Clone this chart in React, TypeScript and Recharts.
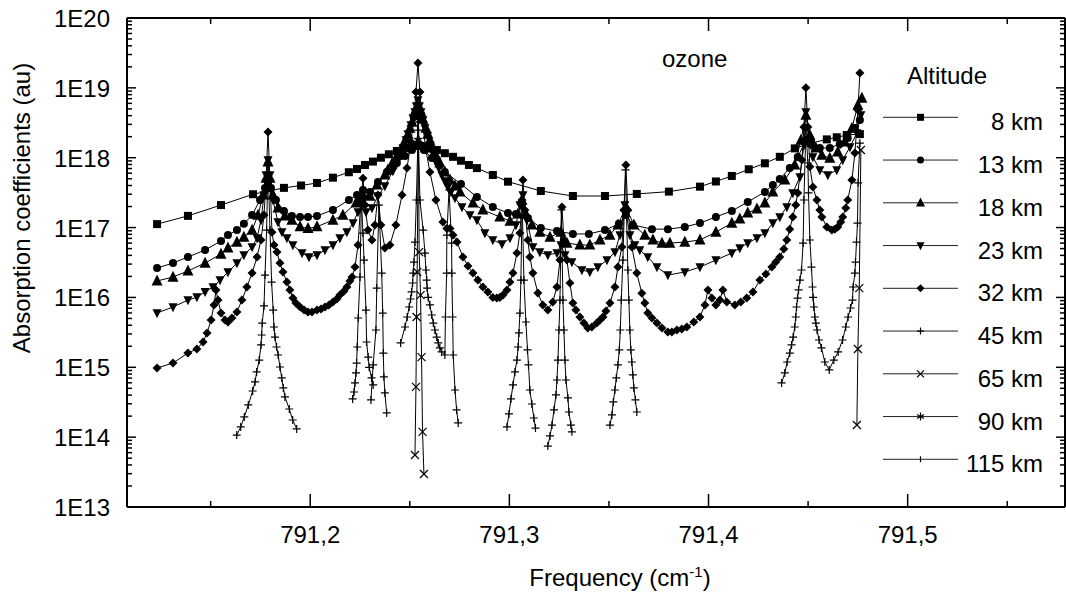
import React from 'react';
import { LineChart, Line, XAxis, YAxis, Legend, Customized } from 'recharts';

const FONT = "'Liberation Sans', Arial, sans-serif";
const FS = 24;

// ---- data: [frequency (cm-1), absorption coefficient (au)] ----
const km8: [number, number][] = [
  [791.1231, 1.12e17], [791.1386, 1.47e17], [791.1552, 2.1e17], [791.1713, 3.0e17], [791.1868, 3.7e17],
  [791.1954, 4.0e17], [791.2034, 4.35e17], [791.2114, 5.18e17], [791.2194, 6.2e17], [791.2235, 6.9e17],
  [791.2275, 7.87e17], [791.2315, 8.8e17], [791.2355, 1.0e18], [791.2395, 1.12e18], [791.2435, 1.25e18],
  [791.2476, 1.38e18], [791.2516, 1.47e18], [791.2556, 1.47e18], [791.2596, 1.38e18], [791.2636, 1.29e18],
  [791.2676, 1.16e18], [791.2717, 1.03e18], [791.2757, 9.06e17], [791.2797, 7.87e17], [791.2837, 7.1e17],
  [791.2917, 5.66e17], [791.2993, 4.54e17], [791.3158, 3.34e17], [791.3319, 2.83e17], [791.348, 2.83e17],
  [791.364, 3.03e17], [791.3801, 3.27e17], [791.3957, 3.85e17], [791.4037, 4.57e17], [791.4117, 5.48e17],
  [791.4202, 6.83e17], [791.4283, 8.32e17], [791.4358, 1.03e18], [791.4433, 1.36e18], [791.4514, 1.62e18],
  [791.4594, 1.83e18], [791.4644, 1.96e18], [791.4694, 2.11e18], [791.476, 2.18e18],
];

const km13: [number, number][] = [
  [791.1231, 2.63e16], [791.1311, 3.11e16], [791.1386, 3.79e16], [791.1472, 4.77e16], [791.1552, 6.42e16],
  [791.1587, 7.8e16], [791.1632, 9.22e16], [791.1667, 1.13e17], [791.1708, 1.51e17], [791.1748, 2.48e17],
  [791.1773, 3.69e17], [791.1788, 4.5e17], [791.1803, 3.69e17], [791.1828, 2.48e17], [791.1868, 1.73e17],
  [791.1908, 1.47e17], [791.1949, 1.42e17], [791.1989, 1.42e17], [791.2034, 1.47e17], [791.2114, 1.79e17],
  [791.2194, 2.48e17], [791.2235, 2.93e17], [791.2265, 3.45e17], [791.23, 3.23e17], [791.234, 4.5e17],
  [791.2385, 6.25e17], [791.2435, 8.4e17], [791.2476, 1.06e18], [791.2511, 1.29e18], [791.2541, 1.47e18],
  [791.2571, 1.29e18], [791.2611, 9.9e17], [791.2676, 6.25e17], [791.2757, 4.2e17], [791.2837, 2.74e17],
  [791.2917, 1.97e17], [791.2993, 1.62e17], [791.3033, 1.57e17], [791.3063, 2.1e17], [791.3093, 1.37e17],
  [791.3158, 9.9e16], [791.3239, 8.9e16], [791.3319, 8.1e16], [791.3399, 8.1e16], [791.348, 9.2e16],
  [791.355, 1.13e17], [791.3585, 1.51e17], [791.362, 1.09e17], [791.3716, 9.5e16], [791.3796, 9.5e16],
  [791.3881, 1.02e17], [791.3957, 1.16e17], [791.4037, 1.42e17], [791.4117, 1.73e17], [791.4197, 2.33e17],
  [791.4283, 3.23e17], [791.4323, 4.07e17], [791.4358, 4.96e17], [791.4408, 7.1e17], [791.4448, 1.02e18],
  [791.4489, 1.79e18], [791.4519, 1.52e18], [791.4559, 1.38e18], [791.4609, 1.38e18], [791.4659, 1.57e18],
  [791.4699, 1.91e18], [791.4735, 2.66e18], [791.476, 3.46e18],
];

const km18: [number, number][] = [
  [791.1231, 1.72e16], [791.1311, 1.96e16], [791.1386, 2.39e16], [791.1472, 3.11e16], [791.1552, 4.18e16],
  [791.1587, 5.1e16], [791.1632, 6.2e16], [791.1667, 7.3e16], [791.1708, 9.2e16], [791.1738, 1.51e17],
  [791.1763, 2.93e17], [791.1778, 5.1e17], [791.1788, 8.7e17], [791.1798, 5.1e17], [791.1813, 2.93e17],
  [791.1838, 1.91e17], [791.1873, 1.47e17], [791.1908, 1.28e17], [791.1949, 1.03e17], [791.1989, 9.7e16],
  [791.2034, 1.03e17], [791.2114, 1.28e17], [791.2164, 1.51e17], [791.223, 2.25e17], [791.2265, 2.93e17],
  [791.23, 2.83e17], [791.2335, 4.07e17], [791.2375, 5.66e17], [791.239, 6.68e17], [791.241, 8.13e17],
  [791.2425, 9.3e17], [791.244, 1.09e18], [791.2451, 1.25e18], [791.2466, 1.52e18], [791.2481, 1.85e18],
  [791.2491, 2.18e18], [791.2501, 2.66e18], [791.2511, 3.24e18], [791.2526, 4.52e18], [791.2531, 4.98e18],
  [791.2541, 5.87e18], [791.2551, 4.98e18], [791.2556, 4.52e18], [791.2566, 3.58e18], [791.2581, 2.66e18],
  [791.2591, 2.18e18], [791.2601, 1.79e18], [791.2616, 1.38e18], [791.2631, 1.09e18], [791.2651, 8.4e17],
  [791.2676, 6.25e17], [791.2702, 4.8e17], [791.2727, 3.94e17], [791.2752, 3.23e17], [791.2817, 2.25e17],
  [791.2867, 1.79e17], [791.2952, 1.42e17], [791.3003, 1.24e17], [791.3043, 1.57e17], [791.3063, 2.48e17],
  [791.3083, 1.57e17], [791.3113, 1.09e17], [791.3153, 8.6e16], [791.3204, 7.3e16], [791.3259, 8.6e16],
  [791.3289, 6.0e16], [791.3354, 5.63e16], [791.3404, 5.63e16], [791.3455, 6.64e16], [791.3505, 7.8e16],
  [791.3545, 1.09e17], [791.3585, 1.97e17], [791.3625, 1.09e17], [791.368, 7.8e16], [791.3721, 6.64e16],
  [791.3766, 6.0e16], [791.3806, 6.0e16], [791.3881, 6.2e16], [791.3957, 6.64e16], [791.4037, 8.6e16],
  [791.4117, 1.16e17], [791.4157, 1.33e17], [791.4197, 1.62e17], [791.4243, 1.85e17], [791.4283, 2.25e17],
  [791.4323, 3.23e17], [791.4383, 4.8e17], [791.4433, 7.87e17], [791.4464, 1.79e18], [791.4489, 4.08e18],
  [791.4509, 2.11e18], [791.4539, 1.38e18], [791.4569, 1.09e18], [791.4609, 9.9e17], [791.4649, 1.21e18],
  [791.4684, 1.68e18], [791.472, 2.66e18], [791.475, 5.67e18], [791.477, 7.15e18],
];

const km23: [number, number][] = [
  [791.1231, 5.98e15], [791.1311, 7.3e15], [791.1386, 9.15e15], [791.1431, 1.01e16], [791.1472, 1.2e16],
  [791.1512, 1.41e16], [791.1547, 1.77e16], [791.1587, 2.31e16], [791.1632, 3.11e16], [791.1667, 4.05e16],
  [791.1708, 5.27e16], [791.1733, 7.08e16], [791.1753, 1.28e17], [791.1768, 2.93e17], [791.1778, 5.66e17],
  [791.1788, 9.3e17], [791.1798, 5.66e17], [791.1813, 2.48e17], [791.1838, 1.2e17], [791.1858, 8.6e16],
  [791.1883, 7.08e16], [791.1913, 5.63e16], [791.1959, 4.32e16], [791.1994, 3.79e16], [791.2034, 4.05e16],
  [791.2074, 4.77e16], [791.2114, 5.63e16], [791.2149, 7.08e16], [791.2184, 8.6e16], [791.2215, 1.16e17],
  [791.224, 1.67e17], [791.226, 2.18e17], [791.228, 1.67e17], [791.231, 1.91e17], [791.234, 2.83e17],
  [791.2375, 3.94e17], [791.2415, 6.45e17], [791.243, 7.87e17], [791.2451, 1.06e18], [791.2466, 1.38e18],
  [791.2481, 1.79e18], [791.2491, 2.18e18], [791.2506, 2.94e18], [791.2516, 3.7e18], [791.2526, 4.52e18],
  [791.2533, 5.5e18], [791.2541, 6.7e18], [791.2548, 5.5e18], [791.2556, 4.52e18], [791.2566, 3.46e18],
  [791.2576, 2.66e18], [791.2589, 2.04e18], [791.2601, 1.52e18], [791.2616, 1.17e18], [791.2631, 8.7e17],
  [791.2646, 7.1e17], [791.2661, 5.66e17], [791.2676, 4.65e17], [791.2691, 3.81e17], [791.2707, 3.23e17],
  [791.2727, 2.65e17], [791.2762, 1.97e17], [791.2802, 1.51e17], [791.2837, 1.28e17], [791.2877, 8.35e16],
  [791.2917, 6.64e16], [791.2963, 5.8e16], [791.3003, 7.08e16], [791.3033, 1.09e17], [791.3053, 2.1e17],
  [791.3068, 2.93e17], [791.3088, 1.28e17], [791.3118, 5.27e16], [791.3153, 4.46e16], [791.3193, 4.05e16],
  [791.3239, 4.32e16], [791.3259, 5.63e16], [791.3279, 4.05e16], [791.3314, 3.21e16], [791.3364, 2.47e16],
  [791.3404, 2.31e16], [791.3444, 2.72e16], [791.349, 3.43e16], [791.353, 4.46e16], [791.3555, 7.8e16],
  [791.358, 2.1e17], [791.3605, 7.8e16], [791.363, 5.63e16], [791.3655, 4.77e16], [791.3695, 3.79e16],
  [791.3741, 2.72e16], [791.3796, 2.09e16], [791.3881, 2.31e16], [791.3957, 2.72e16], [791.4037, 3.43e16],
  [791.4117, 4.32e16], [791.4157, 5.1e16], [791.4197, 6.0e16], [791.4243, 7.08e16], [791.4283, 8.35e16],
  [791.4323, 1.16e17], [791.4358, 1.42e17], [791.4393, 1.97e17], [791.4423, 3.13e17], [791.4459, 5.3e17],
  [791.4479, 1.52e18], [791.4489, 4.52e18], [791.4504, 1.79e18], [791.4524, 1.02e18], [791.4559, 6.68e17],
  [791.4599, 5.66e17], [791.4644, 6.68e17], [791.4674, 9.3e17], [791.471, 1.42e18], [791.4745, 2.26e18],
  [791.4765, 4.08e18],
];

const km32: [number, number][] = [
  [791.1231, 9.8e14], [791.1311, 1.15e15], [791.1386, 1.6e15], [791.1431, 1.83e15], [791.1462, 2.3e15],
  [791.1482, 3.1e15], [791.1502, 4.75e15], [791.1517, 7.8e15], [791.1527, 1.28e16], [791.1537, 9.15e15],
  [791.1552, 5.98e15], [791.1572, 4.75e15], [791.1587, 4.45e15], [791.1607, 5.08e15], [791.1632, 6.2e15],
  [791.1657, 9.15e15], [791.1682, 1.41e16], [791.1708, 2.23e16], [791.1733, 3.79e16], [791.1753, 6.64e16],
  [791.1768, 1.51e17], [791.1778, 4.8e17], [791.1788, 2.33e18], [791.1798, 4.8e17], [791.1808, 8.6e16],
  [791.1818, 5.63e16], [791.1833, 4.46e16], [791.1848, 3.11e16], [791.1863, 2.31e16], [791.1883, 1.66e16],
  [791.1898, 1.28e16], [791.1913, 9.8e15], [791.1928, 8.3e15], [791.1949, 7.3e15], [791.1969, 6.6e15],
  [791.1989, 6.2e15], [791.2009, 6.2e15], [791.2034, 6.6e15], [791.2054, 6.83e15], [791.2074, 7.3e15],
  [791.2094, 7.8e15], [791.2114, 8.6e15], [791.2134, 9.5e15], [791.2149, 1.08e16], [791.2169, 1.23e16],
  [791.2184, 1.41e16], [791.2199, 1.72e16], [791.221, 1.96e16], [791.2225, 2.72e16], [791.224, 5.63e16],
  [791.2255, 2.48e17], [791.2265, 5.1e17], [791.2275, 2.1e17], [791.229, 9.2e16], [791.231, 6.64e16],
  [791.2325, 1.09e17], [791.234, 2.93e17], [791.2355, 1.09e17], [791.2375, 5.1e16], [791.24, 5.63e16],
  [791.243, 1.09e17], [791.2461, 2.93e17], [791.2486, 7.1e17], [791.2506, 1.68e18], [791.2521, 3.7e18],
  [791.2531, 8.7e18], [791.2541, 2.27e19], [791.2551, 8.7e18], [791.2561, 3.7e18], [791.2581, 1.29e18],
  [791.2601, 6.25e17], [791.2631, 2.48e17], [791.2666, 1.2e17], [791.2686, 9.7e16], [791.2702, 9.7e16],
  [791.2717, 7.8e16], [791.2737, 6.2e16], [791.2767, 3.79e16], [791.2792, 2.81e16], [791.2817, 2.23e16],
  [791.2842, 1.77e16], [791.2867, 1.41e16], [791.2892, 1.2e16], [791.2917, 1.0e16], [791.2937, 9.8e15],
  [791.2952, 1.0e16], [791.2968, 1.08e16], [791.2988, 1.28e16], [791.3003, 1.66e16], [791.3018, 2.23e16],
  [791.3038, 4.32e16], [791.3053, 8.35e16], [791.3063, 2.48e17], [791.3068, 4.8e17], [791.3078, 1.79e17],
  [791.3093, 6.64e16], [791.3103, 3.79e16], [791.3118, 2.23e16], [791.3143, 1.16e16], [791.3168, 7.8e15],
  [791.3193, 6.6e15], [791.3218, 8.6e15], [791.3239, 1.41e16], [791.3254, 3.43e16], [791.3264, 1.97e17],
  [791.3274, 6.64e16], [791.3289, 3.43e16], [791.3304, 1.61e16], [791.3319, 8.3e15], [791.3334, 6.6e15],
  [791.3354, 5.25e15], [791.3374, 4.3e15], [791.3394, 3.65e15], [791.3414, 3.77e15], [791.3439, 4.3e15],
  [791.3455, 4.75e15], [791.347, 5.25e15], [791.3485, 6.4e15], [791.3505, 8.3e15], [791.353, 1.41e16],
  [791.3545, 2.72e16], [791.3565, 5.27e16], [791.3575, 1.79e17], [791.3585, 7.87e17], [791.3595, 1.79e17],
  [791.3615, 5.27e16], [791.364, 2.23e16], [791.3665, 1.15e16], [791.368, 8.3e15], [791.3695, 5.98e15],
  [791.3716, 5.08e15], [791.3741, 4.3e15], [791.3766, 3.65e15], [791.3796, 3.2e15], [791.3816, 3.2e15],
  [791.3841, 3.42e15], [791.3866, 3.53e15], [791.3891, 3.77e15], [791.3926, 4.45e15], [791.3957, 5.25e15],
  [791.3982, 7.8e15], [791.3997, 1.28e16], [791.4017, 9.8e15], [791.4037, 7.8e15], [791.4057, 9.15e15],
  [791.4072, 1.28e16], [791.4092, 8.6e15], [791.4132, 7.8e15], [791.4162, 8.6e15], [791.4192, 9.8e15],
  [791.4223, 1.2e16], [791.4258, 1.77e16], [791.4288, 2.16e16], [791.4318, 2.72e16], [791.4338, 3.21e16],
  [791.4358, 3.79e16], [791.4378, 4.93e16], [791.4393, 6.64e16], [791.4408, 9.5e16], [791.4423, 1.42e17],
  [791.4438, 2.1e17], [791.4448, 3.13e17], [791.4469, 9.3e17], [791.4479, 2.75e18], [791.4489, 1.0e19],
  [791.4499, 2.75e18], [791.4509, 7.4e17], [791.4524, 3.81e17], [791.4544, 2.48e17], [791.4559, 1.79e17],
  [791.4569, 1.42e17], [791.4594, 1.02e17], [791.4619, 9.2e16], [791.4634, 9.5e16], [791.4649, 1.02e17],
  [791.4664, 1.2e17], [791.4674, 1.42e17], [791.4689, 1.91e17], [791.4699, 2.48e17], [791.472, 4.8e17],
  [791.4735, 1.17e18], [791.475, 4.8e18], [791.476, 1.63e19],
];

// null marks a break between the separately computed line windows
const km45: [number, number | null][] = [
  [791.1631, 1.07e14], [791.1651, 1.4e14], [791.1669, 1.95e14], [791.1689, 2.89e14], [791.1711, 4.58e14],
  [791.1723, 6.17e14], [791.1731, 8.58e14], [791.1744, 1.27e15], [791.1753, 2.09e15], [791.1756, 2.9e15],
  [791.1759, 4.3e15], [791.1768, 7.55e15], [791.1773, 2.09e16], [791.1781, 9.2e16], [791.1788, 8.4e17],
  [791.1798, 9.2e16], [791.1806, 1.66e16], [791.1814, 6.6e15], [791.1818, 3.77e15], [791.1823, 2.71e15],
  [791.1831, 1.95e15], [791.1839, 1.5e15], [791.1848, 1.01e15], [791.1857, 7.04e14], [791.1865, 5.06e14],
  [791.1873, 3.76e14], [791.1895, 2.53e14], [791.1912, 1.76e14], [791.1932, 1.31e14],
  [791.205, null],
  [791.2213, 3.52e14], [791.222, 4.43e14], [791.2225, 5.97e14], [791.223, 8.3e14], [791.2233, 1.15e15],
  [791.2236, 1.95e15], [791.2241, 5.08e15], [791.225, 1.96e16], [791.2257, 2.48e17], [791.2265, 8.35e16],
  [791.227, 3.43e16], [791.228, 6.6e15], [791.2283, 2.3e15], [791.2291, 1.4e15], [791.2296, 1.0e15],
  [791.2308, 7.04e14], [791.2316, 5.6e14],
  [791.231, null],
  [791.2305, 3.41e14], [791.2316, 1.08e15], [791.233, 3.42e15], [791.2334, 1.36e16], [791.2345, 2.1e17],
  [791.2359, 2.23e16], [791.2364, 5.98e15], [791.2367, 1.6e15], [791.237, 7.3e14], [791.2375, 4.29e14],
  [791.2384, 2.22e14],
  [791.242, null],
  [791.2454, 2.23e15], [791.2476, 3.77e15], [791.2487, 5.25e15], [791.2497, 7.3e15], [791.2504, 9.5e15],
  [791.2509, 1.2e16], [791.2514, 1.61e16], [791.2517, 2.23e16], [791.2521, 3.21e16], [791.2526, 6.2e16],
  [791.2533, 2.48e17], [791.2542, 2.49e18], [791.2551, 2.48e17], [791.2567, 9.2e16], [791.2576, 4.32e16],
  [791.2581, 2.47e16], [791.2585, 1.77e16], [791.2587, 1.36e16], [791.2592, 1.0e16], [791.2601, 7.8e15],
  [791.261, 5.6e15], [791.2618, 4.3e15], [791.2626, 3.42e15], [791.2635, 2.71e15], [791.2643, 2.23e15],
  [791.2651, 1.89e15], [791.266, 1.66e15], [791.2676, 1.5e15], [791.2679, 5.25e15], [791.2685, 2.23e16],
  [791.2686, 7.8e16], [791.2697, 3.45e17], [791.271, 6.0e16], [791.2711, 2.23e16], [791.2715, 5.25e15],
  [791.2718, 1.5e15], [791.2727, 4.73e14], [791.2735, 2.45e14], [791.2743, 1.6e14],
  [791.29, null],
  [791.2988, 1.4e14], [791.2998, 2.15e14], [791.3008, 3.52e14], [791.3018, 5.6e14], [791.3028, 8.58e14],
  [791.3038, 1.27e15], [791.3044, 1.95e15], [791.3048, 3.1e15], [791.3053, 5.98e15], [791.3058, 1.77e16],
  [791.3064, 2.48e17], [791.3073, 1.77e16], [791.3083, 4.45e15], [791.3091, 1.77e15], [791.3096, 1.08e15],
  [791.3103, 4.73e14], [791.3113, 2.98e14], [791.3123, 1.88e14], [791.3131, 1.35e14],
  [791.316, null],
  [791.3193, 7.46e13], [791.3204, 1.04e14], [791.3214, 1.49e14], [791.3224, 2.45e14], [791.3234, 4.02e14],
  [791.3239, 6.58e14], [791.3244, 1.27e15], [791.3249, 3.42e15], [791.3254, 9.15e15], [791.3261, 1.79e17],
  [791.3269, 9.15e15], [791.3274, 3.42e15], [791.3279, 1.27e15], [791.3284, 6.58e14], [791.3294, 3.64e14],
  [791.3299, 2.29e14], [791.3309, 1.49e14], [791.3314, 1.19e14],
  [791.34, null],
  [791.3505, 1.49e14], [791.3515, 2.08e14], [791.3522, 3.19e14], [791.353, 4.73e14], [791.3537, 7.04e14],
  [791.3545, 1.08e15], [791.3552, 1.77e15], [791.3557, 3.42e15], [791.3562, 9.15e15], [791.357, 3.43e16],
  [791.3583, 6.68e17], [791.3595, 2.47e16], [791.36, 9.15e15], [791.3605, 3.42e15], [791.361, 1.77e15],
  [791.3615, 1.19e15], [791.362, 7.78e14], [791.3625, 5.06e14], [791.3633, 3.41e14], [791.364, 2.29e14],
  [791.4, null],
  [791.4367, 5.97e14], [791.4383, 8.3e14], [791.4395, 1.19e15], [791.4408, 1.6e15], [791.4417, 2.09e15],
  [791.4425, 2.71e15], [791.4433, 3.77e15], [791.4438, 5.25e15], [791.4442, 7.3e15], [791.4447, 9.8e15],
  [791.4452, 1.28e16], [791.4459, 1.77e16], [791.4467, 2.47e16], [791.4475, 6.0e16], [791.4479, 2.48e17],
  [791.4489, 2.49e18], [791.4499, 8.4e17], [791.4502, 3.13e17], [791.4509, 6.64e16], [791.4517, 2.72e16],
  [791.4522, 1.41e16], [791.4525, 1.0e16], [791.4529, 7.3e15], [791.4534, 5.25e15], [791.4539, 4.3e15],
  [791.4545, 3.42e15], [791.4555, 2.46e15], [791.4567, 1.89e15], [791.4584, 1.19e15], [791.4606, 9.16e14],
  [791.4629, 1.27e15], [791.4651, 1.66e15], [791.4673, 2.46e15], [791.4689, 3.77e15], [791.4701, 5.25e15],
  [791.4713, 7.06e15], [791.4723, 9.15e15], [791.4726, 1.41e16], [791.4735, 2.23e16], [791.4738, 3.21e16],
  [791.4743, 6.2e16], [791.4748, 1.16e17], [791.4751, 4.37e17], [791.476, 1.62e18],
];

const km65: [number, number | null][] = [
  [791.2526, 5.55e13], [791.2531, 5.23e14], [791.2534, 5.25e15], [791.2537, 2.31e16], [791.2543, 3.46e18],
  [791.2547, 4.46e16], [791.2554, 1.08e16], [791.2559, 1.4e15], [791.2564, 1.19e14], [791.2571, 2.97e13],
  [791.35, null],
  [791.4745, 1.49e14], [791.475, 1.83e15], [791.4757, 1.36e16], [791.4765, 1.29e18],
];

const km90: [number, number][] = [
  [791.2538, 1.79e18], [791.2542, 3.7e18], [791.2546, 1.79e18],
];

const km115: [number, number][] = [
  [791.2539, 2.66e18], [791.2542, 4.3e18], [791.2544, 2.49e18],
];

const yMajorTicks = [1e13, 1e14, 1e15, 1e16, 1e17, 1e18, 1e19, 1e20];
const yMinorMantissas = [2, 3, 4, 5, 6, 7, 8, 9];
const xTicks = [791.15, 791.2, 791.25, 791.3, 791.35, 791.4, 791.45, 791.5, 791.55];
const xDomain: [number, number] = [791.108, 791.579];
const yDomain: [number, number] = [1e13, 1e20];

type Kind = 'square' | 'circle' | 'triUp' | 'triDown' | 'diamond' | 'plus' | 'cross' | 'star' | 'bar';

const series: { name: string; data: [number, number | null][]; kind: Kind; size: number; legendSize: number }[] = [
  { name: '8 km', data: km8, kind: 'square', size: 8, legendSize: 7 },
  { name: '13 km', data: km13, kind: 'circle', size: 8, legendSize: 7 },
  { name: '18 km', data: km18, kind: 'triUp', size: 11, legendSize: 9 },
  { name: '23 km', data: km23, kind: 'triDown', size: 9, legendSize: 8 },
  { name: '32 km', data: km32, kind: 'diamond', size: 9, legendSize: 8 },
  { name: '45 km', data: km45, kind: 'plus', size: 8, legendSize: 7 },
  { name: '65 km', data: km65, kind: 'cross', size: 8, legendSize: 7 },
  { name: '90 km', data: km90, kind: 'star', size: 8, legendSize: 8 },
  { name: '115 km', data: km115, kind: 'bar', size: 6, legendSize: 6 },
];

const yTicks: number[] = [];
yMajorTicks.forEach((d, i) => {
  yTicks.push(d);
  if (i < yMajorTicks.length - 1) yMinorMantissas.forEach((m) => yTicks.push(m * d));
});

function Marker({ kind, cx, cy, s }: { kind: Kind; cx: number; cy: number; s: number }) {
  const h = s / 2;
  switch (kind) {
    case 'square':
      return <rect x={cx - h} y={cy - h} width={s} height={s} fill="#000" />;
    case 'circle':
      return <circle cx={cx} cy={cy} r={h} fill="#000" />;
    case 'triUp':
      return <polygon points={`${cx},${cy - s * 0.58} ${cx - h},${cy + s * 0.42} ${cx + h},${cy + s * 0.42}`} fill="#000" />;
    case 'triDown':
      return <polygon points={`${cx},${cy + s * 0.58} ${cx - h},${cy - s * 0.42} ${cx + h},${cy - s * 0.42}`} fill="#000" />;
    case 'diamond':
      return <polygon points={`${cx},${cy - h} ${cx + h},${cy} ${cx},${cy + h} ${cx - h},${cy}`} fill="#000" />;
    case 'plus':
      return <path d={`M${cx - h},${cy}H${cx + h}M${cx},${cy - h}V${cy + h}`} stroke="#000" strokeWidth={1.2} fill="none" />;
    case 'cross':
      return <path d={`M${cx - h},${cy - h}L${cx + h},${cy + h}M${cx - h},${cy + h}L${cx + h},${cy - h}`} stroke="#000" strokeWidth={1.2} fill="none" />;
    case 'star': {
      const a = h * 0.87;
      const b = h * 0.5;
      return <path d={`M${cx},${cy - h}V${cy + h}M${cx - a},${cy - b}L${cx + a},${cy + b}M${cx - a},${cy + b}L${cx + a},${cy - b}`} stroke="#000" strokeWidth={1.2} fill="none" />;
    }
    case 'bar':
      return <path d={`M${cx},${cy - h}V${cy + h}`} stroke="#000" strokeWidth={1.2} fill="none" />;
    default:
      return null;
  }
}

const isDecade = (v: number) => Math.abs(Math.log10(v) - Math.round(Math.log10(v))) < 1e-6;
const isTenth = (v: number) => Math.abs(v * 10 - Math.round(v * 10)) < 1e-6;

const LeftTick = (props: any) => {
  const { x, y, payload } = props;
  const major = isDecade(payload.value);
  return (
    <g>
      <line x1={x} y1={y} x2={x + (major ? 9 : 5)} y2={y} stroke="#000" strokeWidth={1.5} />
      {major && (
        <text x={x - 17} y={y + 9} textAnchor="end" fontFamily={FONT} fontSize={FS} fill="#000">
          {`1E${Math.round(Math.log10(payload.value))}`}
        </text>
      )}
    </g>
  );
};

const RightTick = (props: any) => {
  const { x, y, payload } = props;
  const major = isDecade(payload.value);
  return <line x1={x} y1={y} x2={x - (major ? 9 : 5)} y2={y} stroke="#000" strokeWidth={1.5} />;
};

const BottomTick = (props: any) => {
  const { x, y, payload } = props;
  const major = isTenth(payload.value);
  return (
    <g>
      <line x1={x} y1={y} x2={x} y2={y - (major ? 13 : 6)} stroke="#000" strokeWidth={1.5} />
      {major && (
        <text x={x} y={y + 36} textAnchor="middle" fontFamily={FONT} fontSize={FS} fill="#000">
          {payload.value.toFixed(1).replace('.', ',')}
        </text>
      )}
    </g>
  );
};

const TopTick = (props: any) => {
  const { x, y, payload } = props;
  const major = isTenth(payload.value);
  return <line x1={x} y1={y} x2={x} y2={y + (major ? 13 : 6)} stroke="#000" strokeWidth={1.5} />;
};

const Titles = () => (
  <g>
    <text x={620} y={586} textAnchor="middle" fontFamily={FONT} fontSize={FS} fill="#000">
      Frequency (cm<tspan fontSize={15} dy={-9}>-1</tspan><tspan dy={9}>)</tspan>
    </text>
    <text
      x={30}
      y={208}
      transform="rotate(-90, 30, 208)"
      textAnchor="middle"
      fontFamily={FONT}
      fontSize={FS}
      fill="#000"
    >
      Absorption coefficients (au)
    </text>
    <text x={662} y={67} fontFamily={FONT} fontSize={FS} fill="#000">
      ozone
    </text>
  </g>
);

const LegendBox = () => (
  <svg width={200} height={440} style={{ display: 'block', overflow: 'visible' }}>
    <text x={47} y={34} fontFamily={FONT} fontSize={FS} fill="#000">
      Altitude
    </text>
    {series.map((s, i) => {
      const y = 67.3 + i * 42.75;
      return (
        <g key={s.name}>
          <line x1={23} x2={98} y1={y} y2={y} stroke="#222" strokeWidth={1} />
          <Marker kind={s.kind} cx={60.5} cy={y} s={s.legendSize} />
          <text x={183} y={y + 13} textAnchor="end" fontFamily={FONT} fontSize={FS} fill="#000">
            {s.name}
          </text>
        </g>
      );
    })}
  </svg>
);

export default function App() {
  const axisLine = { stroke: '#000', strokeWidth: 2 };
  return (
    <div style={{ position: 'absolute', left: 0, top: 0, width: 1066, height: 595, background: '#fff' }}>
      <LineChart width={1066} height={595} margin={{ top: 17, right: 0, bottom: 28, left: 27 }}>
        <XAxis
          xAxisId="b"
          dataKey="x"
          type="number"
          orientation="bottom"
          domain={xDomain}
          allowDataOverflow
          ticks={xTicks}
          interval={0}
          tick={BottomTick}
          tickLine={false}
          tickSize={0}
          tickMargin={0}
          axisLine={axisLine}
          height={60}
        />
        <XAxis
          xAxisId="t"
          dataKey="x"
          type="number"
          orientation="top"
          domain={xDomain}
          allowDataOverflow
          ticks={xTicks}
          interval={0}
          tick={TopTick}
          tickLine={false}
          tickSize={0}
          tickMargin={0}
          axisLine={axisLine}
          height={1}
        />
        <YAxis
          yAxisId="l"
          type="number"
          scale="log"
          orientation="left"
          domain={yDomain}
          allowDataOverflow
          ticks={yTicks}
          interval={0}
          tick={LeftTick}
          tickLine={false}
          tickSize={0}
          tickMargin={0}
          axisLine={axisLine}
          width={100}
        />
        <YAxis
          yAxisId="r"
          type="number"
          scale="log"
          orientation="right"
          domain={yDomain}
          allowDataOverflow
          ticks={yTicks}
          interval={0}
          tick={RightTick}
          tickLine={false}
          tickSize={0}
          tickMargin={0}
          axisLine={axisLine}
          width={1}
        />
        <Legend
          layout="vertical"
          align="center"
          verticalAlign="middle"
          content={() => <LegendBox />}
          wrapperStyle={{ position: 'absolute', left: 860, top: 50, width: 200, height: 440 }}
        />
        {series.map((s) => (
          <Line
            key={s.name}
            name={s.name}
            xAxisId="b"
            yAxisId="l"
            data={s.data.map(([x, y]) => ({ x, y }))}
            dataKey="y"
            type="linear"
            stroke="#000"
            strokeWidth={1}
            connectNulls={false}
            isAnimationActive={false}
            activeDot={false}
            dot={(p: any) =>
              p.cy == null || p.cx == null || p.value == null ? (
                <g key={`${s.name}-${p.index}`} />
              ) : (
                <Marker key={`${s.name}-${p.index}`} kind={s.kind} cx={p.cx} cy={p.cy} s={s.size} />
              )
            }
          />
        ))}
        <Customized component={Titles} />
      </LineChart>
    </div>
  );
}
